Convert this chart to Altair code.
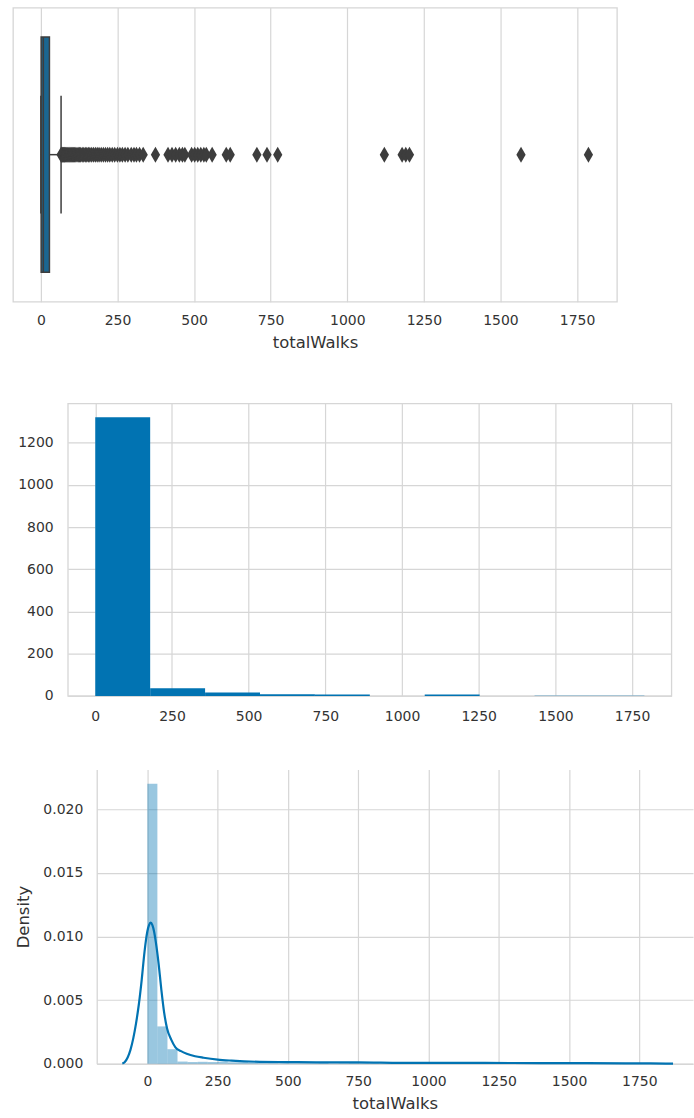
import altair as alt
import pandas as pd

# ---------------- data ----------------
tick_values = [0, 250, 500, 750, 1000, 1250, 1500, 1750]

# box plot summary (totalWalks)
box_q1 = 1
box_median = 8
box_q3 = 28
whisker_low = 0
whisker_high = 66
outliers = [66, 68, 70, 72, 74, 76, 78, 80, 83, 86, 89, 92, 95, 98, 101, 104,
            107, 110, 114, 118, 122, 126, 130, 135, 140, 145, 150, 155, 160,
            166, 172, 178, 184, 190, 197, 204, 211, 218, 225, 233, 241, 250,
            258, 266, 275, 284, 295, 304, 312, 322, 334, 374, 415, 428, 440,
            452, 462, 470, 492, 502, 512, 522, 532, 540, 559, 605, 618, 705,
            738, 773, 1121, 1179, 1191, 1203, 1567, 1787]

# histogram (10 bins)
hist_edges = [0, 179, 358, 537, 716, 895, 1074, 1253, 1432, 1611, 1790]
hist_counts = [1320, 36, 16, 8, 7, 0, 7, 0, 1, 1]
count_ticks = [0, 200, 400, 600, 800, 1000, 1200]

# density histogram (50 bins)
dens_edges = [0, 35.8, 71.6, 107.4, 143.2, 179, 214.8, 250.6, 286.4, 322.2,
              358, 393.8, 429.6, 465.4, 501.2, 537, 572.8, 608.6, 644.4, 680.2,
              716, 751.8, 787.6, 823.4, 859.2, 895, 930.8, 966.6, 1002.4, 1038.2,
              1074, 1109.8, 1145.6, 1181.4, 1217.2, 1253, 1288.8, 1324.6, 1360.4,
              1396.2, 1432, 1467.8, 1503.6, 1539.4, 1575.2, 1611, 1646.8, 1682.6,
              1718.4, 1754.2, 1790]
dens_values = [0.02200, 0.00294, 0.00115, 0.00018, 0.00014, 0.00016, 0.00014,
               0.00016, 0.00012, 0.00012, 0.00008, 0.00006, 0.00008, 0.00006,
               0.00004, 0.00004, 0.00004, 0.00006, 0.00002, 0.00004, 0.00006,
               0.00004, 0.00002, 0.0, 0.0, 0.0, 0.0, 0.0, 0.0, 0.0, 0.0,
               0.00004, 0.00006, 0.00004, 0.0, 0.0, 0.0, 0.0, 0.0, 0.0, 0.0,
               0.0, 0.0, 0.00002, 0.0, 0.0, 0.0, 0.0, 0.0, 0.00002]
density_ticks = [0.0, 0.005, 0.010, 0.015, 0.020]

# KDE curve
kde_x = [-89, -80, -70, -60, -50, -40, -30, -20, -10, 0, 6, 12, 18, 24, 30,
         40, 50, 60, 70, 85, 100, 120, 140, 170, 200, 250, 300, 400, 500, 600,
         750, 900, 1100, 1200, 1400, 1565, 1700, 1790, 1870]
kde_y = [0.00003, 0.00015, 0.0005, 0.0011, 0.0020, 0.0032, 0.0047, 0.0066,
         0.0088, 0.0104, 0.0109, 0.0111, 0.0109, 0.0104, 0.0096, 0.0079,
         0.0058, 0.0040, 0.0028, 0.0019, 0.0013, 0.0010, 0.0008, 0.0006,
         0.00048, 0.00033, 0.00025, 0.00016, 0.00014, 0.00012, 0.00012,
         0.00008, 0.00007, 0.00008, 0.00005, 0.00005, 0.00004, 0.00004, 0.00001]

# ---------------- styles ----------------
FONT = "DejaVu Sans"
TXT = "#333333"
GRID = "#d6d6d6"
BLUE = "#0173b2"
BOXFILL = "#1b6690"
EDGE = "#3d3d3d"
DIAMOND = "M0,-1L0.58,0L0,1L-0.58,0Z"

box_df = pd.DataFrame({"q1": [box_q1], "median": [box_median], "q3": [box_q3],
                       "lo": [whisker_low], "hi": [whisker_high]})
out_df = pd.DataFrame({"value": outliers})
hist_df = pd.DataFrame({"start": hist_edges[:-1], "end": hist_edges[1:],
                        "count": hist_counts})
dens_df = pd.DataFrame({"start": dens_edges[:-1], "end": dens_edges[1:],
                        "density": dens_values})
kde_df = pd.DataFrame({"x": kde_x, "y": kde_y})

# ---------------- panel 1: box plot ----------------
xs1 = alt.Scale(domain=[-91, 1880], nice=False, zero=False)
ys1 = alt.Scale(domain=[-0.5, 0.5], nice=False, zero=False)
ax1 = alt.Axis(values=tick_values, format="d", title="totalWalks", grid=True,
               domain=False, labelPadding=12, titlePadding=7, labelFlush=False)


def ydat(v, first=False):
    if first:
        return alt.YDatum(v, type="quantitative", scale=ys1, axis=None)
    return alt.YDatum(v, type="quantitative")


box = alt.Chart(box_df).mark_bar(color=BOXFILL, stroke=EDGE, strokeWidth=1.5).encode(
    x=alt.X("q1:Q", scale=xs1, axis=ax1),
    x2="q3:Q",
    y=ydat(-0.4, True),
    y2=alt.Y2Datum(0.4),
)
whisk_hi = alt.Chart(box_df).mark_rule(color=EDGE, strokeWidth=1.5).encode(
    x="q3:Q", x2="hi:Q", y=ydat(0))
whisk_lo = alt.Chart(box_df).mark_rule(color=EDGE, strokeWidth=1.5).encode(
    x="lo:Q", x2="q1:Q", y=ydat(0))
cap_lo = alt.Chart(box_df).mark_rule(color=EDGE, strokeWidth=1.5).encode(
    x="lo:Q", y=ydat(-0.2), y2=alt.Y2Datum(0.2))
cap_hi = alt.Chart(box_df).mark_rule(color=EDGE, strokeWidth=1.5).encode(
    x="hi:Q", y=ydat(-0.2), y2=alt.Y2Datum(0.2))
med = alt.Chart(box_df).mark_rule(color=EDGE, strokeWidth=1.5).encode(
    x="median:Q", y=ydat(-0.4), y2=alt.Y2Datum(0.4))
pts = alt.Chart(out_df).mark_point(shape=DIAMOND, filled=True, size=256,
                                   color=EDGE, opacity=1, strokeWidth=0).encode(
    x="value:Q", y=ydat(0))

panel1 = alt.layer(box, whisk_lo, whisk_hi, cap_lo, cap_hi, med, pts).properties(
    width=605.7, height=295,
    view=alt.ViewBackground(stroke=GRID, strokeWidth=1.3))

# ---------------- panel 2: histogram ----------------
xs2 = alt.Scale(domain=[-89.5, 1878], nice=False, zero=False)
ys2 = alt.Scale(domain=[0, 1386], nice=False)
panel2 = alt.Chart(hist_df).mark_bar(color=BLUE).encode(
    x=alt.X("start:Q", scale=xs2,
            axis=alt.Axis(values=tick_values, format="d", title="", grid=True,
                          domain=False, labelPadding=13.2, labelFlush=False)),
    x2="end:Q",
    y=alt.Y("count:Q", scale=ys2,
            axis=alt.Axis(values=count_ticks, format="d", title="", grid=True,
                          domain=False, labelPadding=14.7, minExtent=52,
                          maxExtent=52)),
    y2=alt.Y2Datum(0),
).properties(width=605.3, height=293.3,
             view=alt.ViewBackground(stroke=GRID, strokeWidth=1.3))

# ---------------- panel 3: density ----------------
xs3 = alt.Scale(domain=[-180, 1941], nice=False, zero=False)
ys3 = alt.Scale(domain=[0, 0.02313], nice=False)
dens = alt.Chart(dens_df).mark_bar(color=BLUE, opacity=0.4).encode(
    x=alt.X("start:Q", scale=xs3,
            axis=alt.Axis(values=tick_values, format="d", title="totalWalks",
                          grid=True, domain=True, labelPadding=11,
                          titlePadding=7, labelFlush=False)),
    x2="end:Q",
    y=alt.Y("density:Q", scale=ys3,
            axis=alt.Axis(values=density_ticks, format=".3f", title="Density",
                          grid=True, domain=True, labelPadding=14,
                          titlePadding=12, minExtent=53, maxExtent=53)),
    y2=alt.Y2Datum(0),
)
kde = alt.Chart(kde_df).mark_line(color=BLUE, strokeWidth=2.2,
                                  interpolate="monotone").encode(
    x="x:Q", y="y:Q")
panel3 = alt.layer(dens, kde).properties(
    width=598, height=295.3,
    view=alt.ViewBackground(stroke="transparent"))


def spacer():
    return alt.Chart(pd.DataFrame({"a": [0]})).mark_point(
        opacity=0, size=0, strokeWidth=0).properties(
        width=1, height=1, view=alt.ViewBackground(stroke="transparent"))


row2 = alt.hconcat(spacer(), panel2, spacing=0)
row3 = alt.hconcat(spacer(), panel3, spacing=0)
inner = alt.vconcat(row2, row3, spacing=44)
chart = alt.vconcat(panel1, inner, spacing=50).properties(
    padding={"left": 12, "top": 5, "right": 0, "bottom": 0},
    background="white",
).configure_axis(
    labelFont=FONT, labelFontSize=14, labelColor=TXT,
    titleFont=FONT, titleFontSize=16.5, titleFontWeight="normal", titleColor=TXT,
    gridColor=GRID, gridWidth=1.2, domainColor=GRID, domainWidth=1.3,
    ticks=False, tickSize=0,
)

chart.save("out.html", embed_options={"renderer": "svg", "actions": False})
